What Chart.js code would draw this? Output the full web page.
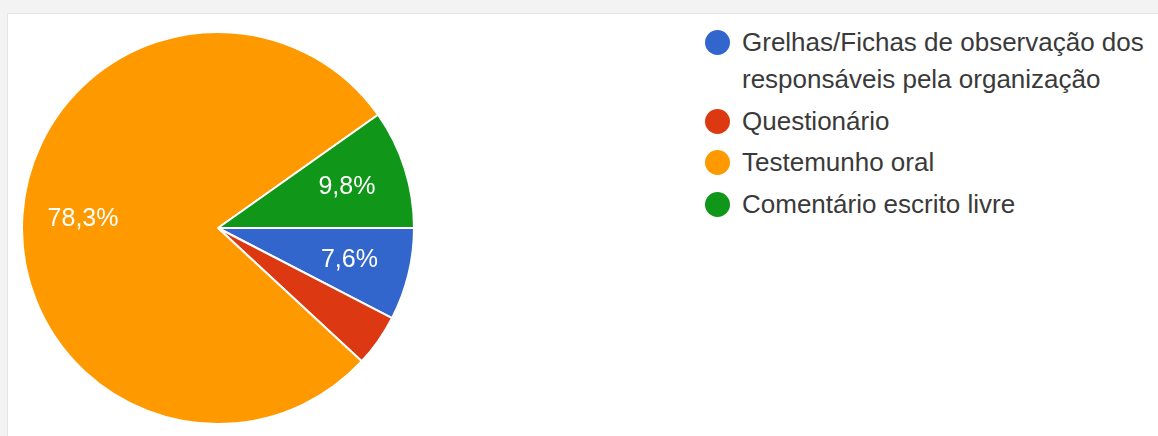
<!DOCTYPE html>
<html>
<head>
<meta charset="utf-8">
<script src="https://cdn.jsdelivr.net/npm/chart.js@4"></script>
<style>
  html, body { margin: 0; padding: 0; }
  body { width: 1158px; height: 436px; background: #f3f3f3; position: relative; overflow: hidden; font-family: "Liberation Sans", Arial, sans-serif; }
  #carte { position: absolute; left: 7px; top: 13px; width: 1160px; height: 430px; background: #fff; border-top: 1px solid #e6e6e6; border-left: 1px solid #e6e6e6; }
  #camembert { position: absolute; left: 21px; top: 31px; }
  #legende { position: absolute; left: 705px; top: 24px; margin: 0; padding: 0; list-style: none; }
  #legende li { position: relative; padding-left: 37px; margin-bottom: 4.5px; font-size: 26px; line-height: 37px; color: #3a3a3a; width: 420px; }
  #legende .pastille { position: absolute; left: 0; top: 6px; width: 25px; height: 25px; border-radius: 50%; }
</style>
</head>
<body>
<div id="carte"></div>
<canvas id="camembert" width="394" height="394"></canvas>
<ul id="legende"></ul>
<script>
// === DONNEES ===
const categories = [
  "Grelhas/Fichas de observação dos responsáveis pela organização",
  "Questionário",
  "Testemunho oral",
  "Comentário escrito livre"
];
const pourcentages = [7.6, 4.3, 78.3, 9.8];
const couleurs = ["#3366cc", "#dc3912", "#ff9900", "#109618"];

// Etiquettes % dans les parts (virgule décimale)
const etiquettesParts = {
  id: "etiquettesParts",
  afterDatasetsDraw(chart) {
    const ctx = chart.ctx;
    const meta = chart.getDatasetMeta(0);
    ctx.save();
    ctx.fillStyle = "#fff";
    ctx.font = "25px 'Liberation Sans', Arial, sans-serif";
    ctx.textAlign = "center";
    ctx.textBaseline = "middle";
    meta.data.forEach((arc, i) => {
      const v = pourcentages[i];
      if (v < 5) return;
      const p = arc.getProps(["x", "y", "startAngle", "endAngle", "outerRadius"], true);
      const milieu = (p.startAngle + p.endAngle) / 2;
      const r = p.outerRadius * 0.69;
      ctx.fillText(v.toFixed(1).replace(".", ",") + "%", p.x + Math.cos(milieu) * r, p.y + Math.sin(milieu) * r);
    });
    ctx.restore();
  }
};

const graphe = new Chart(document.getElementById("camembert"), {
  type: "pie",
  data: {
    labels: categories,
    datasets: [{
      data: pourcentages,
      backgroundColor: couleurs,
      borderColor: "#fff",
      borderWidth: 2
    }]
  },
  options: {
    responsive: false,
    animation: false,
    rotation: 90,
    layout: { padding: 0 },
    plugins: { legend: { display: false }, tooltip: { enabled: false } }
  },
  plugins: [etiquettesParts]
});

// Légende HTML
const ul = document.getElementById("legende");
categories.forEach((c, i) => {
  const li = document.createElement("li");
  li.innerHTML = `<span class="pastille" style="background:${couleurs[i]}"></span>${c}`;
  ul.appendChild(li);
});
</script>
</body>
</html>
